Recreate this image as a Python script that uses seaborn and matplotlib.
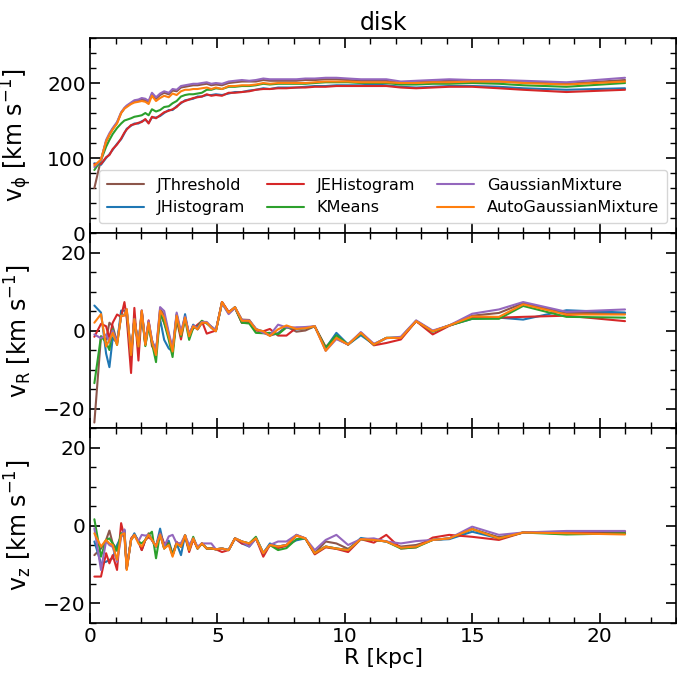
import numpy as np
import pandas as pd
import matplotlib
matplotlib.use("Agg")
import matplotlib.pyplot as plt
import seaborn as sns
from matplotlib.ticker import MultipleLocator

R = [0.17, 0.43, 0.63, 0.76, 0.89, 1.06, 1.22, 1.35, 1.44, 1.61, 1.74, 1.90, 2.03, 2.17, 2.30,
     2.43, 2.59, 2.75, 2.91, 3.09, 3.24, 3.40, 3.57, 3.73, 3.89, 4.05, 4.22, 4.39, 4.58, 4.76,
     4.94, 5.18, 5.44, 5.69, 5.96, 6.25, 6.51, 6.80, 7.06, 7.38, 7.71, 8.10, 8.45, 8.82, 9.25,
     9.67, 10.13, 10.63, 11.14, 11.63, 12.20, 12.80, 13.45, 14.10, 15.00, 16.05, 17.00, 18.70, 21.00]

methods = ["JThreshold", "JHistogram", "JEHistogram", "KMeans", "GaussianMixture", "AutoGaussianMixture"]
colors = ["#8c564b", "#1f77b4", "#d62728", "#2ca02c", "#9467bd", "#ff7f0e"]

# v_phi
vphi_JThreshold = [60, 98, 122, 131, 139, 147, 160, 166, 169, 173, 176, 177, 178, 177, 175, 185, 179, 184, 187, 185,
                   190, 189, 194, 195, 196, 197, 197, 198, 199, 197, 198, 197, 200, 201, 202, 202, 202, 204, 203, 203,
                   203, 203, 204, 204, 205, 205, 204, 203, 203, 203, 200, 201, 202, 203, 202, 202, 201, 199, 204]
vphi_JHistogram = [93, 91, 100, 105, 111, 119, 125, 133, 139, 143, 146, 146, 149, 151, 147, 154, 154, 156, 160, 164,
                   164, 169, 173, 177, 178, 179, 182, 182, 184, 184, 185, 184, 186, 188, 188, 190, 191, 193, 192, 194,
                   194, 194, 195, 196, 196, 197, 197, 197, 198, 197, 195, 194, 195, 196, 196, 195, 193, 191, 193]
vphi_JEHistogram = [92, 92, 101, 104, 112, 118, 126, 134, 138, 144, 145, 147, 148, 152, 146, 155, 153, 157, 161, 163,
                    165, 168, 174, 176, 178, 180, 181, 182, 185, 183, 184, 183, 187, 187, 188, 189, 191, 192, 192, 193,
                    193, 194, 194, 195, 195, 196, 196, 196, 196, 196, 194, 193, 194, 195, 195, 193, 191, 188, 191]
vphi_KMeans = [84, 97, 115, 124, 132, 140, 146, 150, 151, 153, 155, 156, 157, 160, 157, 165, 162, 164, 168, 169,
               173, 176, 182, 184, 185, 185, 186, 187, 191, 191, 193, 192, 195, 195, 196, 196, 197, 199, 198, 199,
               199, 199, 199, 200, 201, 201, 201, 200, 200, 200, 198, 198, 199, 199, 200, 199, 197, 195, 200]
vphi_GaussianMixture = [88, 97, 124, 133, 140, 148, 161, 167, 170, 174, 177, 178, 180, 179, 176, 187, 181, 186, 189, 187,
                        192, 191, 196, 197, 198, 199, 199, 200, 201, 199, 200, 199, 202, 203, 204, 203, 204, 206, 205, 205,
                        205, 205, 206, 206, 207, 207, 206, 205, 205, 205, 202, 203, 204, 205, 204, 204, 203, 201, 207]
vphi_AutoGaussianMixture = [90, 98, 122, 131, 138, 146, 160, 166, 168, 172, 174, 175, 176, 175, 172, 183, 176, 180, 183, 181,
                            186, 184, 189, 191, 191, 192, 192, 193, 194, 192, 194, 192, 196, 196, 197, 197, 198, 200, 199, 200,
                            200, 200, 200, 201, 202, 202, 202, 201, 201, 201, 200, 200, 201, 201, 202, 202, 200, 198, 202]

# v_R
vR_JThreshold = [-23.6, -1.5, -2.4, 2.0, 1.1, -3.0, 3.6, 4.0, 5.0, -5.8, 3.0, -4.0, 5.0, -3.0, 2.2, -2.5, -5.8, 5.5, 4.0, -1.0,
                 -5.0, 4.0, -0.8, 3.3, -1.2, 1.3, 0.3, 2.0, 2.0, 0.9, 0.0, 7.3, 4.6, 6.0, 2.8, 2.7, 0.3, -0.5, -1.3, -0.7,
                 1.0, -0.3, 0.0, 1.1, -4.9, -1.9, -3.6, -0.6, -3.6, -1.9, -1.9, 2.4, -0.2, 1.3, 3.8, 4.5, 7.0, 4.5, 4.5]
vR_JHistogram = [6.4, 4.6, -5.9, -9.4, -1.9, -3.2, 5.1, 5.1, 3.8, -6.8, 2.9, -3.7, 4.6, -3.7, 1.1, -2.8, -5.0, 2.9, -2.4, -4.6,
                 -5.4, 4.2, -1.5, 4.2, -1.5, 1.5, 0.3, 2.0, 2.0, 0.7, -0.2, 7.3, 4.6, 6.0, 2.0, 2.5, 0.3, -0.2, -1.0, -0.8,
                 0.9, 0.3, 0.6, 1.1, -4.5, -0.6, -3.6, -1.2, -3.6, -1.9, -1.9, 2.4, -0.2, 1.3, 3.0, 3.3, 2.8, 5.2, 4.6]
vR_JEHistogram = [-1.6, 1.7, 1.1, -2.0, 2.0, 4.1, 3.5, 7.3, 3.2, -10.9, 5.8, -7.7, 5.0, -3.6, 2.6, -4.0, -5.5, 4.5, 2.0, -1.5,
                  -4.9, 2.8, -2.3, 3.2, -1.0, 0.5, 1.5, 2.4, -0.8, -0.4, 0.0, 7.3, 4.8, 5.8, 2.0, 2.0, 0.0, -0.2, 0.4, -1.3,
                  -1.3, 0.7, 0.6, 1.0, -4.2, -2.0, -3.6, -0.6, -3.8, -3.2, -2.3, 2.4, -1.0, 1.2, 3.3, 3.3, 3.5, 3.8, 2.4]
vR_KMeans = [-13.5, -1.5, -3.0, -5.0, 0.3, -3.7, 4.0, 4.0, 5.0, -6.3, 2.9, -4.1, 4.6, -4.0, 1.1, -3.2, -8.1, 4.5, 2.0, -2.4,
             -6.8, 3.3, -1.5, 2.9, -2.4, 0.7, 0.9, 2.5, 1.8, 1.0, 0.0, 7.0, 4.4, 5.8, 2.0, 1.8, -0.6, -0.7, -0.6, -1.0,
             0.8, 0.5, 0.6, 1.0, -4.4, -1.2, -3.6, -0.8, -3.6, -1.9, -1.8, 2.5, -0.3, 1.3, 3.0, 3.0, 6.3, 3.5, 3.3]
vR_GaussianMixture = [-1.0, -2.0, -1.0, -3.0, 0.0, -3.0, 3.8, 4.0, 5.5, -6.0, 3.0, -3.5, 5.2, -3.2, 2.4, -2.4, -5.3, 6.0, 5.0, -0.5,
                      -4.6, 4.6, -0.3, 3.6, -0.8, 1.3, 0.6, 2.2, 2.2, 1.0, 0.2, 7.0, 4.2, 5.8, 2.7, 2.6, 0.5, -0.6, -1.2, 1.5,
                      0.8, 0.8, 0.9, 1.1, -5.2, -2.2, -3.6, -0.4, -3.4, -2.0, -1.6, 2.6, 0.0, 1.3, 4.3, 5.4, 7.3, 4.8, 5.4]
vR_AutoGaussianMixture = [2.0, 4.2, -4.1, -2.4, -0.6, -3.7, 3.8, 3.8, 5.5, -6.3, 2.9, -4.1, 5.1, -3.7, 2.0, -2.8, -6.3, 5.1, 3.3, -1.5,
                          -5.4, 3.8, -1.1, 3.3, -1.5, 1.1, 0.3, 2.0, 2.0, 0.7, -0.2, 7.3, 4.6, 6.0, 2.5, 2.5, 0.3, -0.2, -1.4, 0.3,
                          1.3, 0.4, 0.6, 1.1, -5.2, -1.9, -3.6, -0.6, -3.6, -1.9, -1.9, 2.4, -0.2, 1.3, 3.6, 3.5, 6.7, 4.1, 4.1]

# v_z
vz_JThreshold = [-7.6, -5.9, -3.7, -1.3, -4.6, -6.2, -2.8, -1.2, -11.2, -3.7, -2.4, -4.1, -6.3, -3.7, -2.0, -3.7, -5.4, -2.3, -5.9, -4.6,
                 -7.6, -4.6, -5.4, -2.5, -6.3, -3.3, -5.9, -4.6, -5.9, -5.9, -6.1, -5.9, -6.3, -3.3, -4.1, -4.6, -3.3, -7.1, -5.0, -5.4,
                 -5.0, -2.4, -3.3, -7.1, -4.1, -4.6, -6.0, -3.5, -3.7, -4.1, -5.4, -5.0, -3.7, -3.3, -0.9, -3.0, -1.8, -2.0, -2.0]
vz_JHistogram = [-4.1, -9.7, -9.3, -8.8, -8.4, -5.0, -2.9, -1.2, -11.0, -3.7, -2.0, -4.1, -6.0, -3.7, -2.4, -3.7, -5.4, -0.8, -5.6, -3.9,
                 -7.3, -4.6, -7.6, -2.5, -6.3, -3.3, -5.9, -4.6, -5.9, -5.9, -6.1, -5.9, -6.3, -3.3, -4.6, -5.4, -3.3, -7.1, -4.6, -5.4,
                 -5.0, -3.8, -3.3, -7.1, -5.4, -5.9, -6.3, -3.2, -3.7, -4.1, -5.7, -5.4, -3.7, -3.5, -1.6, -3.3, -1.8, -2.0, -2.0]
vz_JEHistogram = [-13.1, -13.1, -7.1, -9.7, -7.6, -11.4, 0.6, -3.0, -11.0, -3.3, -2.4, -4.1, -6.3, -3.7, -3.0, -3.7, -5.4, -2.0, -4.6, -4.6,
                  -7.6, -4.2, -5.4, -2.8, -6.8, -3.6, -5.9, -4.6, -5.9, -5.9, -6.1, -6.8, -6.3, -3.3, -4.6, -5.0, -3.3, -8.0, -5.0, -5.8,
                  -5.2, -2.6, -3.3, -7.4, -5.6, -6.0, -6.8, -3.5, -4.4, -2.4, -5.9, -5.6, -3.1, -2.4, -2.9, -3.7, -1.8, -1.6, -1.6]
vz_KMeans = [1.6, -8.0, -3.7, -3.3, -4.6, -6.5, -2.0, -2.0, -10.8, -3.7, -2.4, -4.1, -4.6, -3.7, -2.4, -1.6, -8.4, -2.0, -5.9, -4.6,
             -7.6, -4.6, -5.4, -2.5, -6.3, -2.9, -5.9, -4.6, -5.9, -5.9, -6.1, -5.9, -6.3, -3.3, -4.1, -4.6, -2.9, -7.1, -5.0, -6.3,
             -5.8, -3.5, -3.3, -7.1, -5.4, -5.9, -6.3, -3.5, -3.7, -4.1, -5.9, -5.6, -3.7, -3.3, -0.9, -3.3, -1.8, -2.3, -2.0]
vz_GaussianMixture = [-0.7, -11.4, -4.0, -5.0, -5.5, -9.3, -3.0, -1.0, -11.0, -3.7, -2.4, -4.0, -2.4, -2.6, -2.4, -3.7, -5.4, -2.0, -5.4, -2.8,
                      -2.4, -4.6, -4.5, -2.5, -5.0, -3.3, -5.4, -4.6, -4.6, -4.6, -6.1, -5.9, -6.3, -3.3, -4.1, -5.4, -3.3, -7.1, -5.0, -4.1,
                      -4.1, -2.4, -3.3, -6.3, -3.7, -2.4, -5.0, -3.5, -3.3, -4.1, -4.6, -4.0, -3.7, -3.3, -0.3, -2.4, -1.8, -1.4, -1.4]
vz_AutoGaussianMixture = [-2.0, -5.4, -3.7, -4.6, -5.0, -8.8, -2.4, -2.0, -11.4, -3.7, -2.4, -4.6, -5.4, -3.7, -2.4, -3.7, -5.4, -2.4, -5.9, -5.0,
                          -8.0, -4.6, -5.4, -2.5, -6.3, -3.3, -5.9, -4.6, -5.9, -5.9, -6.1, -5.9, -6.3, -3.3, -4.1, -4.6, -3.3, -7.1, -5.0, -5.4,
                          -5.0, -2.6, -3.3, -7.1, -5.4, -5.9, -6.3, -3.5, -3.7, -4.1, -5.7, -5.4, -3.7, -3.3, -0.9, -3.3, -1.8, -2.0, -2.3]

panels = [
    ("vphi", [vphi_JThreshold, vphi_JHistogram, vphi_JEHistogram, vphi_KMeans, vphi_GaussianMixture, vphi_AutoGaussianMixture],
     r"v$_\phi$ [km s$^{-1}$]", (0, 260), 100, 20),
    ("vR", [vR_JThreshold, vR_JHistogram, vR_JEHistogram, vR_KMeans, vR_GaussianMixture, vR_AutoGaussianMixture],
     r"v$_\mathrm{R}$ [km s$^{-1}$]", (-25, 25), 20, 5),
    ("vz", [vz_JThreshold, vz_JHistogram, vz_JEHistogram, vz_KMeans, vz_GaussianMixture, vz_AutoGaussianMixture],
     r"v$_\mathrm{z}$ [km s$^{-1}$]", (-25, 25), 20, 5),
]

sns.set_style("ticks")
plt.rcParams["font.family"] = ["DejaVu Sans"]
plt.rcParams["mathtext.default"] = "regular"
for k in ["text.color", "axes.labelcolor", "xtick.color", "ytick.color", "axes.edgecolor"]:
    plt.rcParams[k] = "black"

fig, axes = plt.subplots(3, 1, figsize=(6.77, 6.73), dpi=100, sharex=True)
fig.subplots_adjust(left=0.133, right=0.9985, top=0.9435, bottom=0.0743, hspace=0)

for ax, (name, series, ylabel, ylim, major, minor) in zip(axes, panels):
    frames = []
    for m, vals in zip(methods, series):
        frames.append(pd.DataFrame({"R": R, "v": vals, "method": m}))
    df = pd.concat(frames, ignore_index=True)
    sns.lineplot(data=df, x="R", y="v", hue="method", hue_order=methods,
                 palette=colors, estimator=None, sort=False, lw=1.5, ax=ax, legend=(name == "vphi"))
    ax.set_ylim(*ylim)
    ax.set_xlim(0, 23)
    ax.set_ylabel(ylabel, fontsize=17)
    ax.set_xlabel("")
    ax.yaxis.set_major_locator(MultipleLocator(major))
    ax.yaxis.set_minor_locator(MultipleLocator(minor))
    ax.xaxis.set_major_locator(MultipleLocator(5))
    ax.xaxis.set_minor_locator(MultipleLocator(1))
    ax.tick_params(which="both", direction="in", top=True, right=True, labelsize=14.5, colors="black")
    ax.tick_params(which="major", length=7, width=1.2, pad=3)
    ax.tick_params(which="minor", length=4, width=1)
    for s in ax.spines.values():
        s.set_linewidth(1.2)
        s.set_color("black")

axes[0].set_title("disk", fontsize=17)
axes[0].legend(ncol=3, loc="lower center", fontsize=11.6, title=None, frameon=True,
               columnspacing=1.35, handlelength=2.3, handletextpad=0.8, borderaxespad=0.6,
               borderpad=0.5, labelspacing=0.45)
axes[2].set_xlabel("R [kpc]", fontsize=16, labelpad=1)
for ax in axes:
    ax.yaxis.set_label_coords(-0.095, 0.5)

fig.savefig("out.png", dpi=100)
